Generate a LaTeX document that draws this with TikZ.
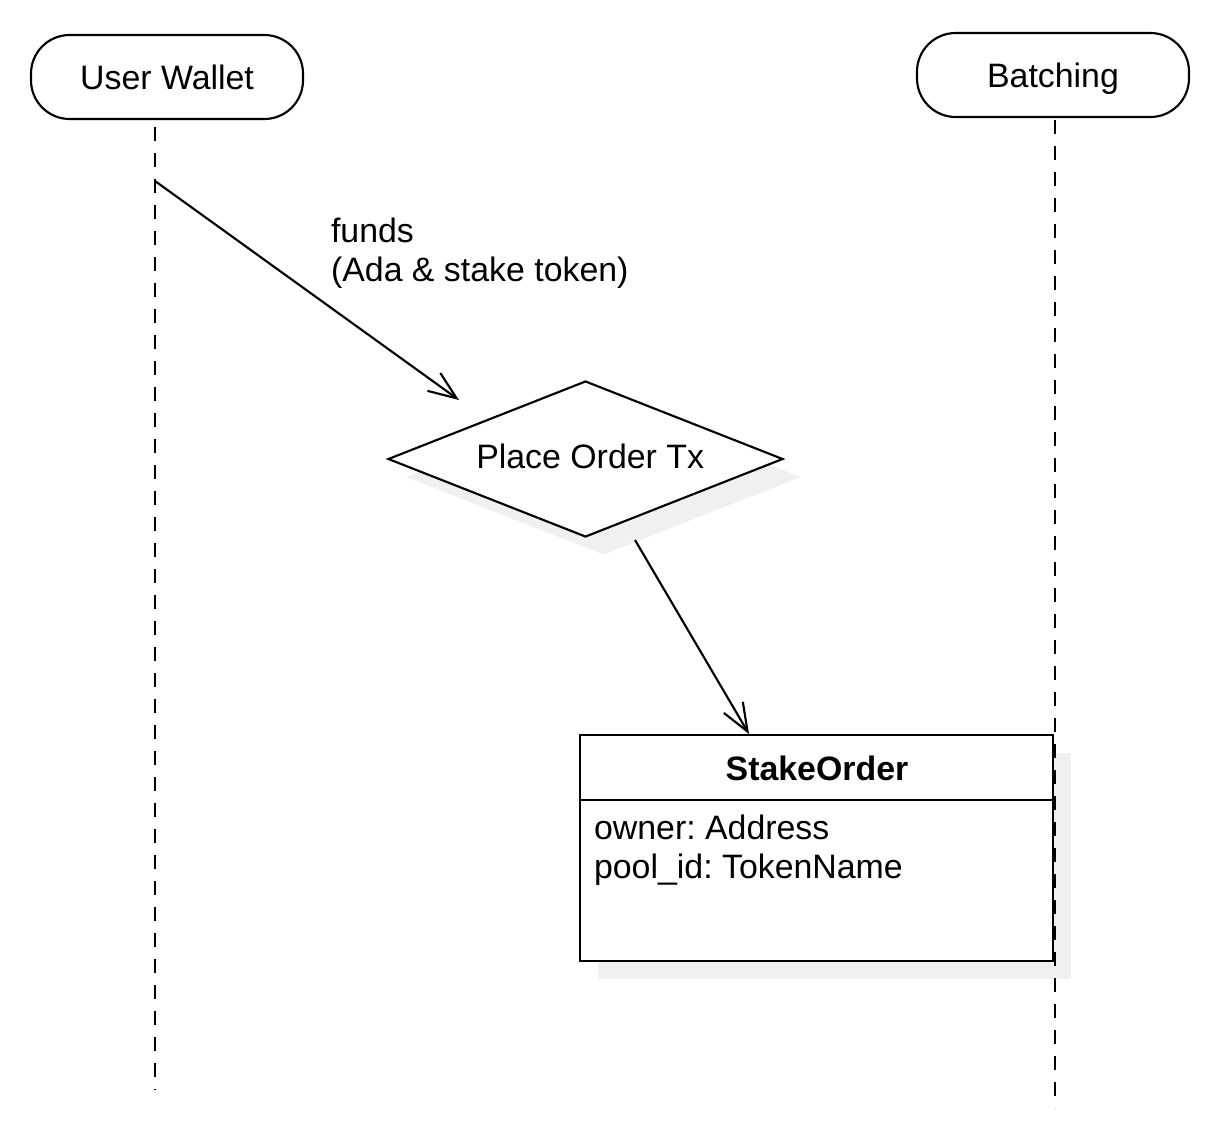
\documentclass[tikz,border=0pt]{standalone}
\usepackage{fontspec}
\setmainfont{Liberation Sans}
\frenchspacing
\usetikzlibrary{arrows.meta,shapes.geometric}
\definecolor{shadowgray}{HTML}{F0F0F0}
\begin{document}
\begin{tikzpicture}[x=0.75pt,y=-0.75pt,line width=1.6pt,
  every node/.style={font=\fontsize{25.4}{29}\selectfont},
  actor/.style={draw,rounded corners=29pt,minimum width=204pt,minimum height=63pt,inner sep=0pt,text height=18pt,text depth=0pt},
  lifeline/.style={dash pattern=on 10.5pt off 9pt},
  decision/.style={diamond,draw,fill=white,aspect=2.53,minimum width=296.25pt,minimum height=117pt,inner sep=0pt},
  decshadow/.style={diamond,fill=shadowgray,aspect=2.53,minimum width=296.25pt,minimum height=117pt,inner sep=0pt},
  classbox/.style={draw,fill=white,minimum width=354.75pt,minimum height=169.5pt,inner sep=0pt},
  boxshadow/.style={fill=shadowgray,minimum width=354.75pt,minimum height=169.5pt,inner sep=0pt},
  msg/.style={-{Straight Barb[length=21pt,width=16.5pt]}},
  plain/.style={inner sep=0pt,align=left}]
\useasboundingbox (0,0) rectangle (1224,1136);

% actors
\node[actor] (uw) at (167,77) {User Wallet};
\node[actor] (bt) at (1053,75) {Batching};

% shadows
\node[decshadow] (dshadow) at (603.5,477) {};
\node[boxshadow] (oshadow) at (834.5,866) {};

% decision
\node[decision,text depth=4.5pt] (tx) at (585.5,459) {\hspace{7pt}Place Order Tx};

% class box
\node[classbox] (order) at (816.5,848) {};
\coordinate (hl) at (580,800);
\coordinate (hr) at (1053,800);
\draw (hl) -- (hr);
\node[font=\bfseries\fontsize{25.4}{29}\selectfont] (oname) at (817,768) {StakeOrder};
\node[plain,anchor=west,font=\fontsize{25.4}{29}\selectfont,text depth=0pt] (oattrs) at (593,847) {owner: Address\\pool\_id: TokenName};

% lifelines
\coordinate (uwtop) at (155,127);
\coordinate (uwbot) at (155,1090);
\coordinate (bttop) at (1055,120);
\coordinate (btbot) at (1055,1108);
\draw[lifeline] (uwtop) -- (uwbot);
\draw[lifeline] (bttop) -- (btbot);

% messages
\coordinate (m1s) at (155,181);
\coordinate (m1e) at (459,400);
\draw[msg] (m1s) -- (m1e);
\node[plain,anchor=north west] (funds) at (330,217) {funds\\(Ada \& stake token)};

\coordinate (m2s) at (635,540);
\coordinate (m2e) at (749,734);
\draw[msg] (m2s) -- (m2e);
\end{tikzpicture}
\end{document}
